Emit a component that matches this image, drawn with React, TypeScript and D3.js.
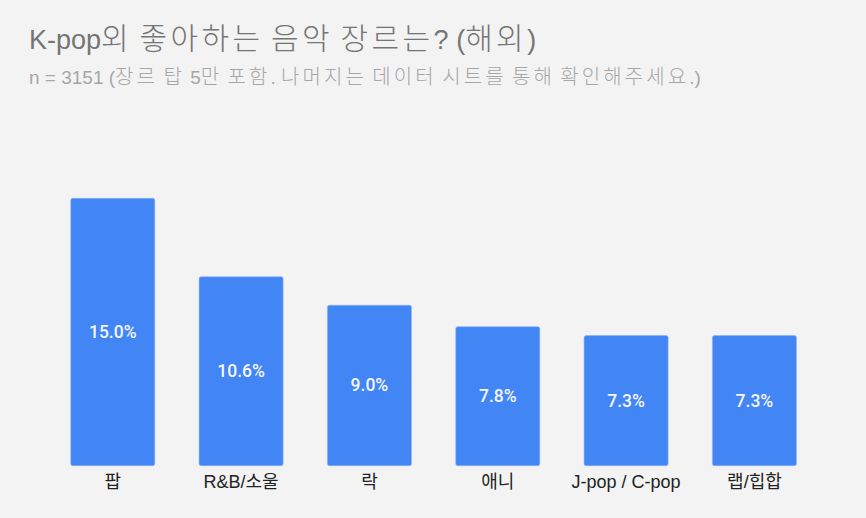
import React from "react";
import * as d3 from "d3";

const genres = ["팝", "R&B/소울", "락", "애니", "J-pop / C-pop", "랩/힙합"];
const shares = [15.0, 10.6, 9.0, 7.8, 7.3, 7.3];

const title = "K-pop외 좋아하는 음악 장르는? (해외)";
const subtitle = "n = 3151 (장르 탑 5만 포함. 나머지는 데이터 시트를 통해 확인해주세요.)";

const width = 866;
const height = 518;
const sans = "'Liberation Sans', Arial, 'Noto Sans CJK KR', sans-serif";

// split a string into hangul / other runs so the hangul can be sized on its own
function runs(s: string) {
  const out: { t: string; k: boolean }[] = [];
  for (const ch of s) {
    const k = /[\uAC00-\uD7A3]/.test(ch);
    const last = out[out.length - 1];
    if (last && last.k === k) last.t += ch;
    else out.push({ t: ch, k });
  }
  return out;
}

type MixedProps = { s: string; x: number; y: number; latin: number; hangul: number; spacing: number; fill: string };

function Mixed({ s, x, y, latin, hangul, spacing, fill }: MixedProps) {
  return (
    <text x={x} y={y} fill={fill} fontSize={latin}>
      {runs(s).map((r, i) => (
        <tspan
          key={i}
          fontSize={r.k ? hangul : latin}
          fontWeight={r.k ? 300 : 400}
          letterSpacing={r.k ? spacing : 0}
          fontFamily={r.k ? "'Noto Sans CJK KR', sans-serif" : sans}
        >
          {r.t}
        </tspan>
      ))}
    </text>
  );
}

export default function App() {
  // band scale tuned so bars sit where the reference has them
  const x = d3
    .scaleBand<string>()
    .domain(genres)
    .range([48.6, 818.6])
    .paddingInner(0.345)
    .paddingOuter(0.1725);

  const y = d3.scaleLinear([0, 15], [465.7, 198.3]);

  return (
    <div style={{ position: "absolute", left: 0, top: 0 }}>
      <svg width={width} height={height} style={{ display: "block", fontFamily: sans }}>
        <rect width={width} height={height} fill="#f3f3f3" />
        <Mixed s={title} x={29} y={49} latin={27} hangul={30} spacing={3.4} fill="#757575" />
        <Mixed s={subtitle} x={29} y={84} latin={19} hangul={20} spacing={3.1} fill="#a6a6a6" />
        {genres.map((g, i) => {
          const bx = x(g)!;
          const bw = x.bandwidth();
          const top = y(shares[i]);
          const bottom = y(0);
          return (
            <g key={g}>
              <rect
                x={bx}
                y={top}
                width={bw}
                height={bottom - top}
                rx={2}
                fill="#4285f4"
                stroke="#8fb4f7"
                strokeWidth={0.6}
              />
              <text
                x={bx + bw / 2}
                y={(top + bottom) / 2 + 6}
                textAnchor="middle"
                fontFamily="Roboto, sans-serif"
                fontSize={17.5}
                fontWeight={500}
                fill="#f4f7ff"
              >
                {shares[i].toFixed(1) + "%"}
              </text>
              <text
                x={bx + bw / 2}
                y={488}
                textAnchor="middle"
                fontSize={18}
                fill="#222222"
              >
                {g}
              </text>
            </g>
          );
        })}
      </svg>
    </div>
  );
}
